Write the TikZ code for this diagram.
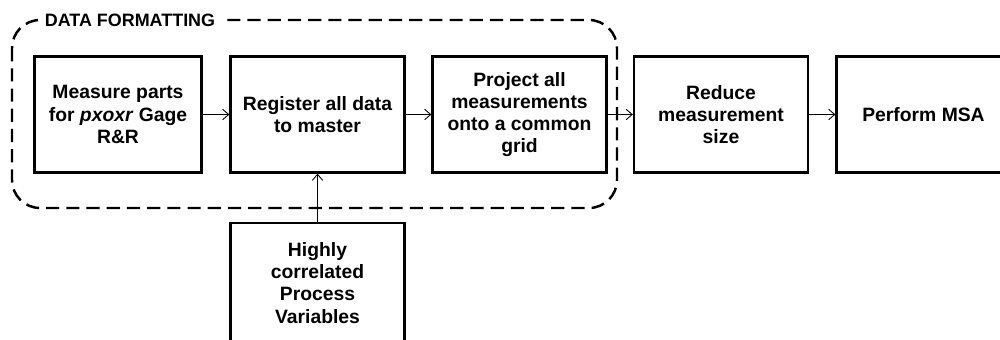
\documentclass[tikz,border=0pt]{standalone}
\usepackage{fontspec}
\setmainfont{Liberation Sans}
\usetikzlibrary{arrows.meta}
\begin{document}
\begin{tikzpicture}[x=0.02cm,y=-0.02cm,line cap=butt,line join=miter,>={Straight Barb[length=3.5pt,width=6pt]},font=\fontsize{11}{12.6}\selectfont\bfseries]
			\tikzset{stagebox/.style={draw,line width=1.3pt,minimum width=99pt,minimum height=66pt,align=center,inner sep=2pt},
				groupframe/.style={line width=1.4pt,dash pattern=on 7.5pt off 4pt,rounded corners=16pt},
				flow/.style={->,line width=0.5pt}
			}
			\useasboundingbox (0,0) rectangle (1000,339);
			\draw[groupframe] (12,20) rectangle (617,208);
			\node[fill=white,inner xsep=4pt,inner ysep=1pt,font=\fontsize{10.2}{11}\selectfont\bfseries] (grouplabel) at (130,20) {DATA FORMATTING};
			\node[stagebox,minimum width=95pt] (measure) at (118,114.5) {Measure parts\\for \textit{pxoxr} Gage\\R\&R};
			\node[stagebox] (register) at (317.5,114.5) {Register all data\\to master};
			\node[stagebox] (project) at (519.5,114.5) {Project all\\measurements\\onto a common\\grid};
			\node[stagebox] (reduce) at (721,114.5) {Reduce\\measurement\\size};
			\node[stagebox] (msa) at (923.5,114.5) {Perform MSA};
			\node[stagebox,minimum height=68pt] (procvars) at (317.5,283) {Highly\\correlated\\Process\\Variables};
			\draw[flow] (measure) -- (register);
			\draw[flow] (register) -- (project);
			\draw[flow] (project) -- (reduce);
			\draw[flow] (reduce) -- (msa);
			\draw[flow] (procvars) -- (register);
		\end{tikzpicture}
\end{document}
